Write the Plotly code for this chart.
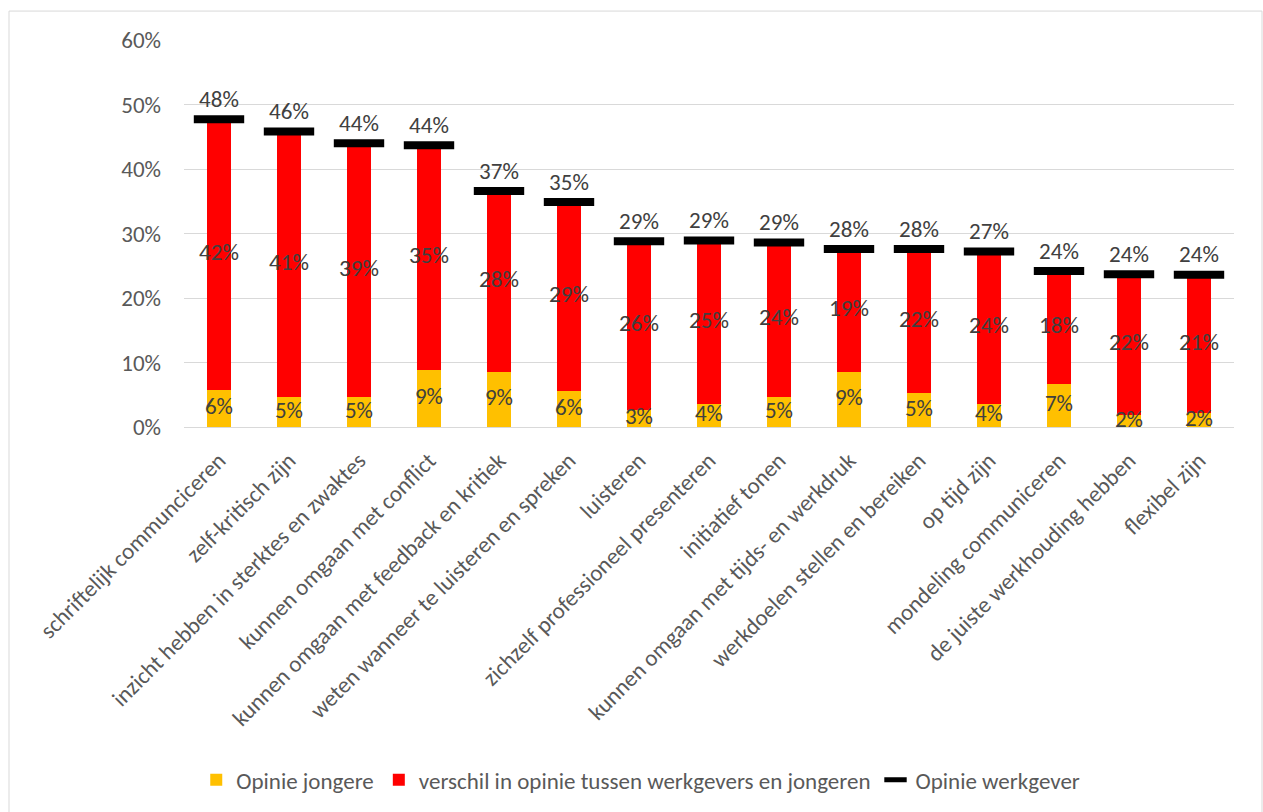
import plotly.graph_objects as go

categories = [
    "schriftelijk communciceren",
    "zelf-kritisch zijn",
    "inzicht hebben in sterktes en zwaktes",
    "kunnen omgaan met conflict",
    "kunnen omgaan met feedback en kritiek",
    "weten wanneer te luisteren en spreken",
    "luisteren",
    "zichzelf professioneel presenteren",
    "initiatief tonen",
    "kunnen omgaan met tijds- en werkdruk",
    "werkdoelen stellen en bereiken",
    "op tijd zijn",
    "mondeling communiceren",
    "de juiste werkhouding hebben",
    "flexibel zijn",
]
opinie_jongere = [5.8, 4.6, 4.6, 8.9, 8.6, 5.6, 2.6, 3.6, 4.7, 8.6, 5.2, 3.6, 6.6, 1.9, 2.2]
verschil = [41.9, 41.2, 39.4, 34.8, 28.0, 29.3, 26.2, 25.3, 23.9, 19.0, 22.4, 23.6, 17.6, 21.8, 21.4]
opinie_werkgever = [47.7, 45.8, 44.0, 43.7, 36.6, 34.9, 28.8, 28.9, 28.6, 27.6, 27.6, 27.2, 24.2, 23.7, 23.6]
y_ticks = [0, 10, 20, 30, 40, 50, 60]

FONT = "Carlito, Calibri, Lato, sans-serif"
LABEL_COLOR = "#404040"
TICK_COLOR = "#595959"
FS = 23


def pct(v):
    return f"{int(v + 0.5)}%"


fig = go.Figure()
fig.add_bar(x=categories, y=opinie_jongere, name="Opinie jongere",
            marker=dict(color="#FFC000", line=dict(width=0)), width=0.34)
fig.add_bar(x=categories, y=verschil,
            name="verschil in opinie tussen werkgevers en jongeren",
            marker=dict(color="#FF0000", line=dict(width=0)), width=0.34)
fig.add_scatter(x=categories, y=opinie_werkgever, mode="markers", name="Opinie werkgever",
                marker=dict(symbol="line-ew", size=36, color="black",
                            line=dict(width=8, color="black")))

# data labels
fig.add_scatter(x=categories, y=[v / 2 for v in opinie_jongere], mode="text",
                text=[pct(v) for v in opinie_jongere], textposition="middle center",
                textfont=dict(family=FONT, size=FS, color=LABEL_COLOR),
                showlegend=False, hoverinfo="skip")
fig.add_scatter(x=categories, y=[j + d / 2 for j, d in zip(opinie_jongere, verschil)], mode="text",
                text=[pct(v) for v in verschil], textposition="middle center",
                textfont=dict(family=FONT, size=FS, color=LABEL_COLOR),
                showlegend=False, hoverinfo="skip")
fig.add_scatter(x=categories, y=opinie_werkgever, mode="markers+text",
                text=[pct(v) for v in opinie_werkgever], textposition="top center",
                marker=dict(size=9, color="rgba(0,0,0,0)", line=dict(width=0)),
                textfont=dict(family=FONT, size=FS, color=LABEL_COLOR),
                showlegend=False, hoverinfo="skip")

fig.update_layout(
    width=1263, height=812,
    barmode="stack",
    bargap=0.66,
    paper_bgcolor="white", plot_bgcolor="white",
    margin=dict(l=184, r=29, t=40, b=384),
    font=dict(family=FONT, size=FS, color=TICK_COLOR),
    showlegend=True,
    legend=dict(orientation="h", x=0.435, xanchor="center", y=-0.907, yanchor="middle",
                font=dict(family=FONT, size=FS, color=TICK_COLOR), traceorder="normal",
                itemwidth=30),
    shapes=[dict(type="rect", xref="paper", yref="paper",
                 x0=(9 - 184) / 1050, x1=(1262 - 184) / 1050,
                 y0=-(815 - 428) / 388, y1=(428 - 11) / 388,
                 line=dict(color="#D9D9D9", width=1), fillcolor="rgba(0,0,0,0)", layer="below")],
)
fig.update_xaxes(range=[-0.5, len(categories) - 0.5], tickangle=-45, showgrid=False,
                 showline=True, linecolor="#D9D9D9", linewidth=1,
                 ticks="", ticklabelstandoff=10,
                 tickfont=dict(family=FONT, size=FS, color=TICK_COLOR))
fig.update_yaxes(range=[0, 60], tickmode="array", tickvals=y_ticks,
                 ticktext=[f"{v}%" for v in y_ticks], showgrid=True,
                 gridcolor="#D9D9D9", gridwidth=1, zeroline=False, showline=False,
                 ticklabelstandoff=22,
                 tickfont=dict(family=FONT, size=FS, color=TICK_COLOR))

fig.write_html("out.html", config={"displayModeBar": False},
               post_script="document.body.style.margin='0';")
